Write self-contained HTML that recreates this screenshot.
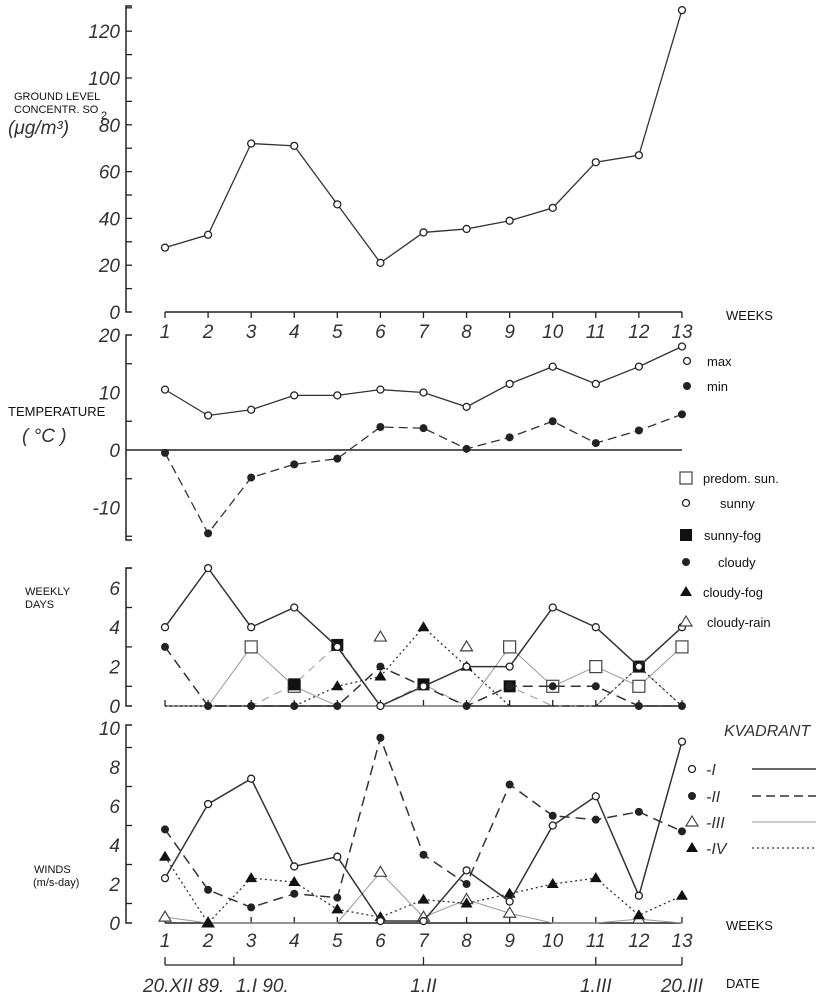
<!DOCTYPE html>
<html><head><meta charset="utf-8"><style>
body{margin:0;background:#fff;}
svg{display:block;font-family:"Liberation Sans",sans-serif;}
.tk{font-style:italic;font-size:19px;fill:#333;}
.lb{font-size:11px;fill:#111;}
.lg{font-size:13px;fill:#111;}
</style></head><body>
<svg id="c" width="834" height="1000" viewBox="0 0 834 1000"></svg>
<script>
const weeks=[1,2,3,4,5,6,7,8,9,10,11,12,13];
const so2=[27.5,33,72,71,46,21,34,35.5,39,44.5,64,67,129];
const tMax=[10.5,6,7,9.5,9.5,10.5,10,7.5,11.5,14.5,11.5,14.5,18];
const tMin=[-0.5,-14.5,-4.8,-2.5,-1.5,4,3.8,0.2,2.2,5,1.2,3.4,6.2];
const dSunny=[4,7,4,5,3,0,1,2,2,5,4,2,4];
const dCloudy=[3,0,0,0,0,2,1,0,1,1,1,0,0];
const dPredom=[0,0,3,1,0,0,0,0,3,1,2,1,3];
const dPredomMark=[0,0,1,1,0,0,0,0,1,1,1,1,1];
const dSunFog=[0,0,0,1.1,3.1,0,1.1,0,1,0,0,2,0];
const dSunFogMark=[0,0,0,1,1,0,1,0,1,0,0,1,0];
const dCloudFog=[0,0,0,0,1,1.5,4,2,0,0,0,2,0];
const dCloudFogMark=[0,0,0,0,1,1,1,1,0,0,0,1,0];
const dRain=[0,0,0,0,0,3.5,0,3,0,0,0,0,0];
const wI=[2.3,6.1,7.4,2.9,3.4,0.1,0.1,2.7,1.1,5.0,6.5,1.4,9.3];
const wII=[4.8,1.7,0.8,1.5,1.3,9.5,3.5,2.0,7.1,5.5,5.3,5.7,4.7];
const wIII=[0.3,0,0,0,0,2.6,0.3,1.2,0.5,0,0,0.2,0];
const wIIIMark=[1,1,0,0,0,1,1,1,1,0,0,1,0];
const wIV=[3.4,0,2.3,2.1,0.7,0.3,1.2,1.0,1.5,2.0,2.3,0.4,1.4];
const so2Ticks=[0,20,40,60,80,100,120];
const tTicks=[20,10,0,-10];
const dTicks=[0,2,4,6];
const wTicks=[0,2,4,6,8,10];
const dateLabels=["20.XII 89.","1.I 90.","1.II","1.III","20.III"];
const dateWeeks=[1,2.6,7,11,13];

const NS="http://www.w3.org/2000/svg";
const svg=document.getElementById('c');
function mk(t,a,p){const e=document.createElementNS(NS,t);for(const k in a)e.setAttribute(k,a[k]);(p||svg).appendChild(e);return e;}
const X=w=>165+(w-1)*43.08;
const ySO2=v=>312-v*2.34;
const yT=v=>450-v*5.75;
const yD=v=>706-v*19.7;
const yW=v=>923-v*19.5;
const AX=126;

function text(x,y,s,cls,anchor,name){const t=mk('text',{x:x,y:y,class:cls,'text-anchor':anchor||'start'});t.textContent=s;

return t;}

function marker(x,y,type,name){let e;
if(type==='oc')e=mk('circle',{cx:x,cy:y,r:3.5,fill:'#fff',stroke:'#222','stroke-width':1.3});
else if(type==='fc')e=mk('circle',{cx:x,cy:y,r:4,fill:'#222'});
else if(type==='os')e=mk('rect',{x:x-6,y:y-6,width:12,height:12,fill:'#fff',stroke:'#444','stroke-width':1.2});
else if(type==='fs')e=mk('rect',{x:x-6,y:y-6,width:12,height:12,fill:'#111'});
else if(type==='ft')e=mk('path',{d:`M${x} ${y-6}L${x+6} ${y+4}L${x-6} ${y+4}Z`,fill:'#111'});
else e=mk('path',{d:`M${x} ${y-6}L${x+6} ${y+4}L${x-6} ${y+4}Z`,fill:'#fff',stroke:'#444','stroke-width':1.2});

}

function series(vals,yf,stroke,dash,w,mtype,name,marks){
 const pts=vals.map((v,i)=>X(weeks[i])+','+yf(v)).join(' ');
 const l=mk('polyline',{points:pts,fill:'none',stroke:stroke,'stroke-width':w,'stroke-dasharray':dash||'none'});
 
 
 vals.forEach((v,i)=>{if(!marks||marks[i])marker(X(weeks[i]),yf(v),mtype,name+'-point');});
}

function vaxis(top,bot,ticks,yf,minor,name){
 const a=mk('path',{d:`M${AX+6} ${top}H${AX}V${bot}H${AX+6}`,fill:'none',stroke:'#222','stroke-width':1.5});
 
 
 minor.forEach(v=>mk('line',{x1:AX,x2:AX+6,y1:yf(v),y2:yf(v),stroke:'#222','stroke-width':1.3}));
 ticks.forEach(v=>text(AX-6,yf(v)+7,String(v),'tk','end',name+'-tick-label'));
}
function haxis(y,name,up){
 const a=mk('line',{x1:X(1),x2:X(13),y1:y,y2:y,stroke:'#222','stroke-width':1.5});
 
 
 weeks.forEach(w=>mk('line',{x1:X(w),x2:X(w),y1:y,y2:y+(up?-6:6),stroke:'#222','stroke-width':1.3}));
}

// Panel 1 SO2
vaxis(6,312,so2Ticks,ySO2,[10,20,30,40,50,60,70,80,90,100,110,120,130],'so2-y-axis');
haxis(312,'so2-x-axis',false);
weeks.forEach(w=>text(X(w),338,String(w),'tk','middle','week-label'));
series(so2,ySO2,'#333',null,1.3,'oc','so2');
text(14,100,'GROUND LEVEL','lb','start','so2-title');
text(14,113,'CONCENTR. SO','lb','start','so2-title');
text(101,119,'2','lb','start','so2-title-sub');
text(8,134,'(μg/m³)','tk','start','so2-unit');
text(726,320,'WEEKS','lg','start','weeks-label');

// Panel 2 temperature
vaxis(335,540,tTicks,yT,[15,5,-5,-15],'temp-y-axis');
mk('path',{d:`M${AX} ${yT(0)}H${X(13)}`,stroke:'#222','stroke-width':1.5,fill:'none'});
series(tMax,yT,'#333',null,1.3,'oc','temp-max');
series(tMin,yT,'#333','9,5',1.3,'fc','temp-min');
text(8,416,'TEMPERATURE','lg','start','temp-title');
text(22,442,'( °C )','tk','start','temp-unit');
marker(687,361,'oc','legend-max-marker');text(707,366,'max','lg','start','legend-max');
marker(687,386,'fc','legend-min-marker');text(707,391,'min','lg','start','legend-min');

// Panel 3 weekly days
vaxis(568,706,dTicks,yD,[1,3,5,7],'days-y-axis');
haxis(706,'days-x-axis',true);
series(dPredom,yD,'#999',null,1,'os','predom-sun',dPredomMark);
series(dSunFog,yD,'#999','8,6',1,'fs','sunny-fog',dSunFogMark);
series(dCloudFog,yD,'#333','2,3',1.3,'ft','cloudy-fog',dCloudFogMark);
series(dCloudy,yD,'#333','10,6',1.5,'fc','cloudy');
series(dSunny,yD,'#333',null,1.5,'oc','sunny');
dRain.forEach((v,i)=>{if(v>0)marker(X(weeks[i]),yD(v),'ot','cloudy-rain-point');});
text(25,595,'WEEKLY','lb','start','days-title');
text(25,608,'DAYS','lb','start','days-title');
const lg=[['os','predom. sun.',478,703],['oc','sunny',503,720],['fs','sunny-fog',535,704],['fc','cloudy',562,718],['ft','cloudy-fog',592,703],['ot','cloudy-rain',622,707]];
lg.forEach(l=>{marker(686,l[2],l[0],'legend-marker');text(l[3],l[2]+5,l[1],'lg','start','legend-'+l[1]);});

// Panel 4 winds
vaxis(725,923,wTicks,yW,[1,3,5,7,9],'winds-y-axis');
haxis(923,'winds-x-axis',true);
weeks.forEach(w=>text(X(w),947,String(w),'tk','middle','week-label'));
series(wIII,yW,'#999',null,1,'ot','kvadrant-iii',wIIIMark);
series(wIV,yW,'#333','2,3',1.3,'ft','kvadrant-iv');
series(wII,yW,'#333','10,6',1.5,'fc','kvadrant-ii');
series(wI,yW,'#333',null,1.5,'oc','kvadrant-i');
text(34,873,'WINDS','lb','start','winds-title');
text(33,886,'(m/s-day)','lb','start','winds-unit');
text(724,736,'KVADRANT','tk','start','kvadrant-title').setAttribute('style','font-size:16px');
const kv=[['oc','-I',null,769,1.5,'#333'],['fc','-II','9,5',796,1.5,'#333'],['ot','-III',null,822,1,'#999'],['ft','-IV','2,3',848,1.3,'#333']];
kv.forEach(k=>{marker(692,k[3],k[0],'kvadrant-legend-marker');text(706,k[3]+6,k[1],'tk','start','kvadrant-legend-label').setAttribute('style','font-size:16px');
 const l=mk('line',{x1:752,x2:816,y1:k[3],y2:k[3],stroke:k[5],'stroke-width':k[4],'stroke-dasharray':k[2]||'none'});
 
 });
text(726,930,'WEEKS','lg','start','weeks-label');

// Date axis
const dl=mk('line',{x1:X(1),x2:X(13),y1:965,y2:965,stroke:'#222','stroke-width':1.3});


dateWeeks.forEach((w,i)=>{mk('line',{x1:X(w),x2:X(w),y1:957,y2:965,stroke:'#222','stroke-width':1.3});
 const anc=i===0?'start':(i===1?'start':'middle');
 const xx=i===0?X(w)-22:(i===1?X(w)+2:X(w));
 text(xx,992,dateLabels[i],'tk',anc,'date-label');});
text(726,988,'DATE','lg','start','date-title');
</script>
</body></html>
